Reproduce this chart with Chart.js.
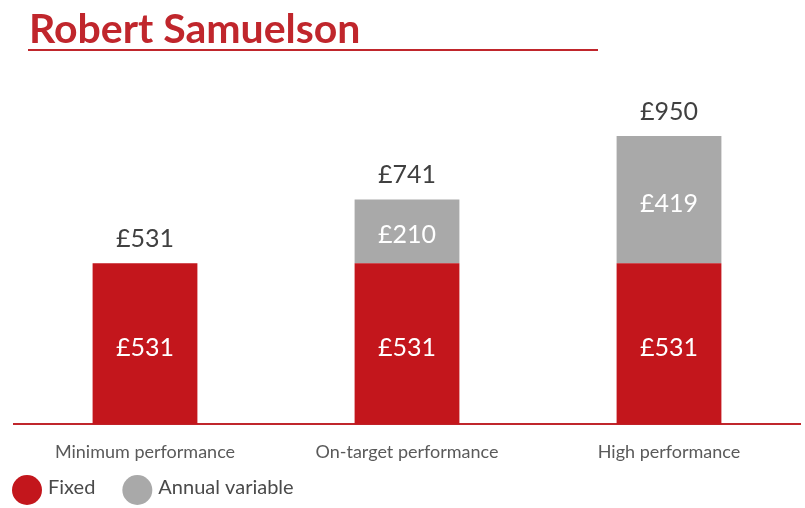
<!DOCTYPE html>
<html>
<head>
<meta charset="utf-8">
<script src="https://cdn.jsdelivr.net/npm/chart.js@4.4.0/dist/chart.umd.min.js"></script>
<style>
  html, body { margin: 0; padding: 0; background: #fff; }
  #wrap { position: relative; width: 805px; height: 508px; }
</style>
</head>
<body>
<div id="wrap"><canvas id="chart" width="805" height="508"></canvas></div>
<script>
const categories = ['Minimum performance', 'On-target performance', 'High performance'];
const fixedValues = [531, 531, 531];
const variableValues = [0, 210, 419];
const totals = [531, 741, 950];
const titleText = 'Robert Samuelson';

const RED = '#c3161c';
const GREY = '#a9a9a9';

// title, underline, legend and the £ labels on / above the bars
const labelPlugin = {
    id: 'labels',
    beforeDraw(chart) {
        const ctx = chart.ctx;
        ctx.save();
        ctx.fillStyle = '#c0262c';
        ctx.font = 'bold 41px Lato';
        ctx.textBaseline = 'alphabetic';
        ctx.fillText(titleText, 29, 43);
        ctx.strokeStyle = '#c0262c';
        ctx.lineWidth = 2;
        ctx.beginPath();
        ctx.moveTo(28, 50);
        ctx.lineTo(598, 50);
        ctx.stroke();

        // legend: circles + names, laid out left to right
        ctx.font = '20px Lato';
        ctx.textBaseline = 'middle';
        let x = 12;
        chart.data.datasets.forEach((ds) => {
            ctx.fillStyle = ds.backgroundColor;
            ctx.beginPath();
            ctx.arc(x + 15, 490, 15, 0, Math.PI * 2);
            ctx.fill();
            ctx.fillStyle = '#4a4a4a';
            ctx.fillText(ds.label, x + 36, 488);
            x += 36 + ctx.measureText(ds.label).width + 27;
        });
        ctx.restore();
    },
    afterDatasetsDraw(chart) {
        const ctx = chart.ctx;
        const yScale = chart.scales.y;
        ctx.save();
        ctx.textAlign = 'center';
        ctx.textBaseline = 'middle';
        ctx.font = '25px Lato';
        chart.data.datasets.forEach((ds, di) => {
            chart.getDatasetMeta(di).data.forEach((bar, i) => {
                if (!ds.data[i]) return;
                ctx.fillStyle = '#ffffff';
                ctx.fillText('£' + ds.data[i], bar.x, (bar.y + bar.base) / 2 + 4);
            });
        });
        const meta = chart.getDatasetMeta(0);
        totals.forEach((t, i) => {
            ctx.fillStyle = '#404040';
            ctx.fillText('£' + t, meta.data[i].x, yScale.getPixelForValue(t) - 24);
        });
        ctx.restore();
    }
};

new Chart(document.getElementById('chart'), {
    type: 'bar',
    data: {
        labels: categories,
        datasets: [
            { label: 'Fixed', data: fixedValues, backgroundColor: RED },
            { label: 'Annual variable', data: variableValues, backgroundColor: GREY }
        ]
    },
    options: {
        responsive: false,
        animation: false,
        layout: { padding: { left: 14, right: 5, top: 60, bottom: 36 } },
        datasets: { bar: { barPercentage: 0.4, categoryPercentage: 1 } },
        scales: {
            x: {
                stacked: true,
                grid: { display: false },
                border: { color: '#c0262c', width: 2 },
                ticks: { color: '#5a5a5a', font: { family: 'Lato', size: 18 }, padding: 9 }
            },
            y: {
                stacked: true,
                display: false,
                min: 0,
                max: 1200
            }
        },
        plugins: {
            tooltip: { enabled: false },
            legend: { display: false }
        }
    },
    plugins: [labelPlugin]
});
</script>
</body>
</html>
